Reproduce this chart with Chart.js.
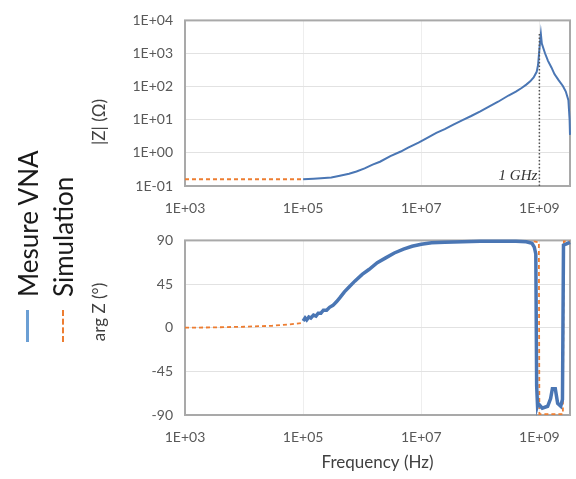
<!DOCTYPE html>
<html lang="fr">
<head>
<meta charset="utf-8">
<title>Impédance</title>
<script src="https://cdn.jsdelivr.net/npm/chart.js@4.4.1/dist/chart.umd.min.js"></script>
<style>
  body { margin: 0; background: #fff; }
  #zona { position: relative; width: 576px; height: 479px; overflow: hidden; }
  canvas { position: absolute; left: 0; }
  #grafModulo { top: 0; }
  #grafFase { top: 220px; }
  #leyenda { position: absolute; left: 10px; top: 342px; transform-origin: 0 0; transform: rotate(-90deg);
             font-family: Lato, sans-serif; font-size: 26px; color: #1a1a1a; white-space: nowrap; }
  .fila { height: 35px; display: flex; align-items: center; }
  .muestra { width: 32px; margin-right: 13px; }
</style>
</head>
<body>
<div id="zona">
  <canvas id="grafModulo" width="576" height="222"></canvas>
  <canvas id="grafFase" width="576" height="259"></canvas>
  <div id="leyenda"></div>
</div>
<script>
const nombresSeries = ["Mesure VNA", "Simulation"]
const coloresSeries = ["#4a76b4", "#ed7d31"]

// eje de frecuencias
const ticksFrec = [1e3, 1e5, 1e7, 1e9]
const etiquetasFrec = ["1E+03", "1E+05", "1E+07", "1E+09"]

// |Z| medido (VNA)
const frecMedZ = [1e5, 1.5e5, 2e5, 3e5, 4e5, 6e5, 8e5, 1.1e6, 1.5e6, 2e6, 3e6, 4.5e6, 6e6, 9e6, 1.2e7, 1.8e7,
  2.5e7, 3.5e7, 5e7, 7e7, 1e8, 1.4e8, 2e8, 3e8, 4e8, 5e8, 6e8, 7e8, 8e8, 9e8, 9.5e8, 1.02e9, 1.06e9, 1.1e9,
  1.25e9, 1.4e9, 1.6e9, 1.8e9, 2.1e9, 2.5e9, 2.8e9, 3.1e9, 3.25e9, 3.3e9]
const moduloMed = [0.16, 0.165, 0.17, 0.18, 0.2, 0.235, 0.275, 0.34, 0.44, 0.54, 0.8, 1.1, 1.45, 2.05, 2.7, 4.0,
  5.2, 7.1, 9.8, 13, 18, 25, 35, 54, 71, 91, 115, 145, 190, 280, 450, 2000, 3900, 2000,
  1000, 600, 380, 240, 160, 105, 71, 39, 10, 3.5]

// |Z| simulado
const frecSimZ = [1e3, 3e3, 1e4, 3e4, 1e5]
const moduloSim = [0.16, 0.16, 0.16, 0.16, 0.16]

// eje |Z|
const ticksZ = [0.1, 1, 10, 100, 1000, 10000]
const etiquetasZ = ["1E-01", "1E+00", "1E+01", "1E+02", "1E+03", "1E+04"]

// arg Z medido (VNA)
const frecMedFase = [1e5, 1.08e5, 1.15e5, 1.25e5, 1.35e5, 1.5e5, 1.65e5, 1.8e5, 2e5, 2.2e5, 2.5e5, 2.8e5, 3.2e5,
  3.7e5, 4.2e5, 5e5, 6e5, 7.5e5, 1e6, 1.3e6, 1.8e6, 2.5e6, 3.5e6, 5e6, 7e6, 1e7, 1.5e7, 2.5e7, 5e7, 1e8, 2e8,
  4e8, 6e8, 7.5e8, 8.2e8, 8.7e8, 9e8, 9.3e8, 9.5e8, 1.12e9, 1.38e9, 1.55e9, 1.66e9, 1.86e9, 2.04e9, 2.3e9,
  2.46e9, 2.56e9, 3.3e9]
const faseMed = [7, 10, 8, 11, 10, 13, 12, 15, 15, 18, 18, 21, 23,
  27, 31, 37, 42, 48, 55, 60, 67, 72, 77, 81, 84, 86, 87.5, 88, 88.5, 89, 89,
  89, 88.5, 87, 83, 76, -60, -80, -78, -83, -81, -73, -63, -63, -78, -81,
  -74, 85, 88]

// arg Z simulado (null = tramo oculto bajo la medida)
const frecSimFase = [1e3, 3e3, 1e4, 3e4, 6e4, 1e5, 1e7, 8e8, 9.8e8, 1e9, 2.5e9, 2.6e9, 3.3e9]
const faseSim = [0, 0.3, 1, 2, 3.5, 5, null, 89, 88, -89, -89, 89, 89]

// eje fase
const ticksFase = [-90, -45, 0, 45, 90]

// resonancia
const frecResonancia = 1e9
const moduloResonancia = 3900
const textoResonancia = "1 GHz"

Chart.defaults.font.family = "Lato, sans-serif"
Chart.defaults.color = "#595959"

function puntos(frec, valores) {
  return frec.map((f, i) => ({ x: f, y: valores[i] }))
}

const marco = {
  id: "marco",
  beforeDatasetsDraw(chart) {
    const { ctx, chartArea: a } = chart
    ctx.save()
    ctx.strokeStyle = "#a9a9a9"
    ctx.lineWidth = 2
    ctx.strokeRect(a.left, a.top, a.right - a.left, a.bottom - a.top)
    ctx.restore()
  }
}

// titulo vertical del eje Y, en la posicion del original
const tituloY = {
  id: "tituloY",
  afterDraw(chart, args, opts) {
    const { ctx } = chart
    ctx.save()
    ctx.translate(opts.x, opts.y)
    ctx.rotate(-Math.PI / 2)
    ctx.font = "17px Lato"
    ctx.fillStyle = "#404040"
    ctx.textAlign = "center"
    ctx.textBaseline = "middle"
    ctx.fillText(opts.texto, 0, 0)
    ctx.restore()
  }
}

const marcaGHz = {
  id: "marcaGHz",
  afterDatasetsDraw(chart) {
    const { ctx, chartArea: a, scales } = chart
    const x = scales.x.getPixelForValue(frecResonancia)
    const y = scales.y.getPixelForValue(moduloResonancia)
    ctx.save()
    ctx.strokeStyle = "#555"
    ctx.lineWidth = 1.5
    ctx.setLineDash([1.5, 2])
    ctx.beginPath()
    ctx.moveTo(x, y)
    ctx.lineTo(x, a.bottom)
    ctx.stroke()
    ctx.setLineDash([])
    ctx.fillStyle = "#333"
    ctx.font = 'italic 15px "Liberation Serif"'
    ctx.textAlign = "right"
    ctx.textBaseline = "bottom"
    ctx.fillText(textoResonancia, x - 2, a.bottom - 2)
    ctx.restore()
  }
}

function ejeFrecuencia(alto, conTitulo) {
  return {
    type: "logarithmic",
    min: 1e3,
    max: 3.3e9,
    afterBuildTicks: (eje) => { eje.ticks = ticksFrec.map((v) => ({ value: v })) },
    afterFit: (eje) => { eje.height = alto },
    ticks: { callback: (v, i) => etiquetasFrec[i], font: { size: 14 }, padding: 14, maxRotation: 0, autoSkip: false },
    grid: { color: "#eeeeee", drawTicks: false },
    border: { display: false },
    title: {
      display: conTitulo,
      text: "Frequency (Hz)",
      font: { size: 17 },
      color: "#404040",
      padding: { top: 0, bottom: 6 }
    }
  }
}

function serie(i, frec, valores, grosor) {
  const ds = {
    label: nombresSeries[i],
    data: puntos(frec, valores),
    borderColor: coloresSeries[i],
    borderWidth: grosor,
    pointRadius: 0,
    clip: 4
  }
  if (i === 1) ds.borderDash = [4, 3]
  return ds
}

const opcionesBase = {
  responsive: false,
  animation: false
}

// GRAFICA |Z|
new Chart(document.getElementById("grafModulo"), {
  type: "line",
  data: {
    datasets: [
      serie(0, frecMedZ, moduloMed, 2),
      serie(1, frecSimZ, moduloSim, 1.8)
    ]
  },
  options: {
    ...opcionesBase,
    layout: { padding: { left: 88, top: 14, right: 6, bottom: 0 } },
    plugins: {
      legend: { display: false },
      tooltip: { enabled: false },
      tituloY: { texto: "|Z| (Ω)", x: 100, y: 122 }
    },
    scales: {
      x: ejeFrecuencia(36, false),
      y: {
        type: "logarithmic",
        min: 0.1,
        max: 1e4,
        afterBuildTicks: (eje) => { eje.ticks = ticksZ.map((v) => ({ value: v })) },
        afterFit: (eje) => { eje.width = 97 },
        ticks: { callback: (v, i) => etiquetasZ[i], font: { size: 14 }, padding: 12 },
        grid: { color: "#e2e2e2", drawTicks: false },
        border: { display: false }
      }
    }
  },
  plugins: [marco, marcaGHz, tituloY]
})

// GRAFICA FASE
new Chart(document.getElementById("grafFase"), {
  type: "line",
  data: {
    datasets: [
      serie(0, frecMedFase, faseMed, 3.5),
      serie(1, frecSimFase, faseSim, 1.8)
    ]
  },
  options: {
    ...opcionesBase,
    layout: { padding: { left: 88, top: 17, right: 6, bottom: 0 } },
    plugins: {
      legend: { display: false },
      tooltip: { enabled: false },
      tituloY: { texto: "arg Z (°)", x: 100, y: 92 }
    },
    scales: {
      x: ejeFrecuencia(64, true),
      y: {
        min: -90,
        max: 90,
        afterBuildTicks: (eje) => { eje.ticks = ticksFase.map((v) => ({ value: v })) },
        afterFit: (eje) => { eje.width = 97 },
        ticks: { font: { size: 14 }, padding: 12 },
        grid: { color: "#e2e2e2", drawTicks: false },
        border: { display: false }
      }
    }
  },
  plugins: [marco, tituloY]
})

// LEYENDA VERTICAL
let plantilla = ""
nombresSeries.forEach((nombre, i) => {
  const estilo = i === 0 ? `3px solid #6b9fd4` : `2px dashed ${coloresSeries[1]}`
  plantilla += `<div class="fila"><span class="muestra" style="border-top:${estilo}"></span>${nombre}</div>`
})
document.getElementById("leyenda").innerHTML = plantilla
</script>
</body>
</html>
